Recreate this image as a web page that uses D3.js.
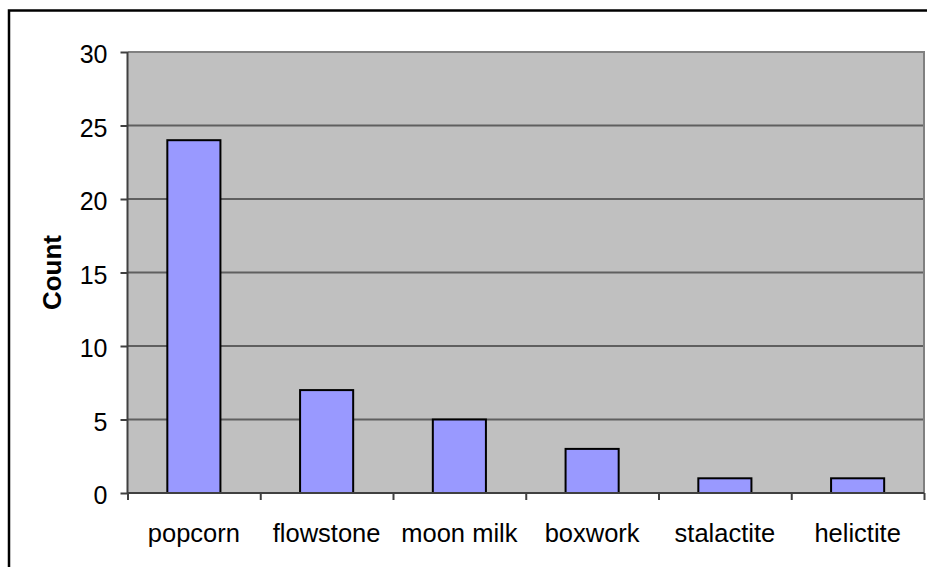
<!DOCTYPE html>
<html>
<head>
<meta charset="utf-8">
<script src="https://cdn.jsdelivr.net/npm/d3@7"></script>
<style>
  html, body { margin: 0; padding: 0; background: #fff; }
  svg { display: block; font-family: Arial, "Liberation Sans", sans-serif; }
</style>
</head>
<body>
<svg id="chart" width="927" height="567"></svg>
<script>
// Speleothem types and how many times each was counted
const categories = ["popcorn", "flowstone", "moon milk", "boxwork", "stalactite", "helictite"];
const counts = [24, 7, 5, 3, 1, 1];
const yTicks = [0, 5, 10, 15, 20, 25, 30];
const yTitle = "Count";

const svg = d3.select("#chart");
const W = 927, H = 567;
const plot = { left: 127.5, right: 924, top: 52, bottom: 493 };

// outer frame (runs off the right and bottom edges)
svg.append("rect")
  .attr("x", 9).attr("y", 10.5)
  .attr("width", W + 10).attr("height", H + 10)
  .attr("fill", "#fff").attr("stroke", "#000").attr("stroke-width", 2.5);

const x = d3.scaleBand()
  .domain(categories)
  .range([plot.left, plot.right])
  .paddingInner(0.6)
  .paddingOuter(0.3);

// slot boundaries for the category tick marks
const xSlots = d3.scaleLinear().domain([0, categories.length]).range([plot.left, plot.right]);

const y = d3.scaleLinear().domain([0, 30]).range([plot.bottom, plot.top]);

// plot background
svg.append("rect")
  .attr("x", plot.left).attr("y", plot.top)
  .attr("width", plot.right - plot.left).attr("height", plot.bottom - plot.top)
  .attr("fill", "#c0c0c0");

// horizontal gridlines
svg.append("g")
  .selectAll("line")
  .data(yTicks.filter(d => d > 0 && d < 30))
  .join("line")
  .attr("x1", plot.left).attr("x2", plot.right)
  .attr("y1", d => y(d)).attr("y2", d => y(d))
  .attr("stroke", "#5f5f5f").attr("stroke-width", 2);

// plot border on the top and right
svg.append("path")
  .attr("d", `M${plot.left},${plot.top}H${plot.right}V${plot.bottom}`)
  .attr("fill", "none").attr("stroke", "#808080").attr("stroke-width", 2);

// bars
svg.append("g")
  .selectAll("rect")
  .data(categories)
  .join("rect")
  .attr("x", d => x(d))
  .attr("y", (d, i) => y(counts[i]))
  .attr("width", x.bandwidth())
  .attr("height", (d, i) => y(0) - y(counts[i]))
  .attr("fill", "#9999ff")
  .attr("stroke", "#000").attr("stroke-width", 2);

// y axis
const yAxis = svg.append("g")
  .attr("transform", `translate(${plot.left},0)`)
  .call(d3.axisLeft(y).tickValues(yTicks).tickSize(7).tickPadding(13).tickFormat(d3.format("d")));
yAxis.select(".domain").attr("stroke", "#404040").attr("stroke-width", 2)
  .attr("d", `M0,${plot.top}V${plot.bottom}`);
yAxis.selectAll(".tick line").attr("stroke", "#404040").attr("stroke-width", 2);
yAxis.selectAll(".tick text")
  .attr("font-size", 25).attr("fill", "#000")
  .attr("dy", "0.42em")
  .attr("font-family", "Arial, 'Liberation Sans', sans-serif");

// x axis with tick marks between categories
const xAxis = svg.append("g")
  .attr("transform", `translate(0,${plot.bottom})`)
  .call(d3.axisBottom(xSlots).tickValues(d3.range(categories.length + 1)).tickSize(7).tickFormat(""));
xAxis.select(".domain").attr("stroke", "#404040").attr("stroke-width", 2)
  .attr("d", `M${plot.left},0H${plot.right}`);
xAxis.selectAll(".tick line").attr("stroke", "#404040").attr("stroke-width", 2);

// category labels
svg.append("g")
  .selectAll("text")
  .data(categories)
  .join("text")
  .attr("x", d => x(d) + x.bandwidth() / 2)
  .attr("y", 542)
  .attr("text-anchor", "middle")
  .attr("font-size", 25.5)
  .attr("fill", "#000")
  .text(d => d);

// y axis title
svg.append("text")
  .attr("transform", `translate(61,${(plot.top + plot.bottom) / 2}) rotate(-90)`)
  .attr("text-anchor", "middle")
  .attr("font-size", 26)
  .attr("font-weight", "bold")
  .attr("fill", "#000")
  .text(yTitle);
</script>
</body>
</html>
